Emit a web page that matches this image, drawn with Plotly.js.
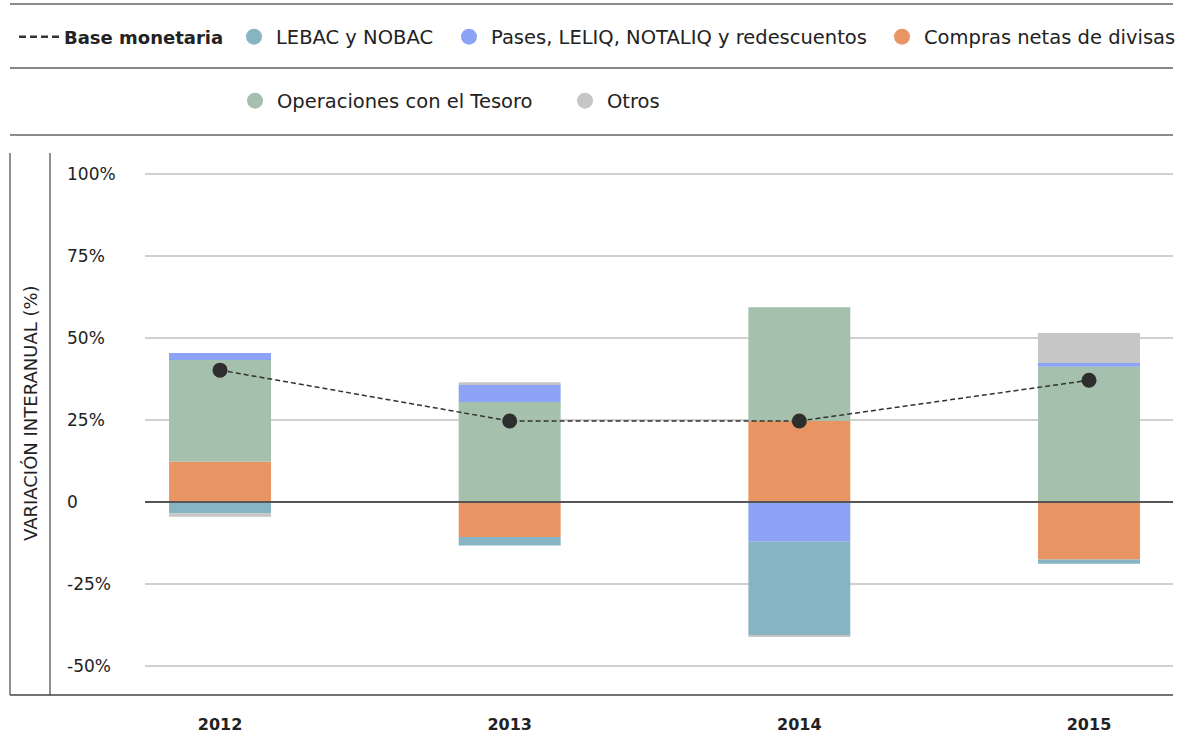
<!DOCTYPE html>
<html>
<head>
<meta charset="utf-8">
<script src="https://cdn.plot.ly/plotly-3.0.1.min.js"></script>
<style>html,body{margin:0;padding:0;background:#fff;}#chart{width:1183px;height:736px;}</style>
</head>
<body>
<div id="chart"></div>
<script>
// ---- data ----
const years = ['2012', '2013', '2014', '2015'];
const baseMonetaria = [40.3, 24.8, 24.8, 37.2];
const lebac = [-3.3, -2.6, -28.5, -1.3];
const pases = [2.1, 5.2, -12.0, 1.2];
const compras = [12.4, -10.6, 24.8, -17.4];
const operaciones = [31.0, 30.6, 34.7, 41.3];
const otros = [-1.1, 0.8, -0.5, 9.1];
const yTickValues = [-50, -25, 0, 25, 50, 75, 100];
const yTickLabels = ['-50%', '-25%', '0', '25%', '50%', '75%', '100%'];

const names = {
  base: '<b>Base monetaria</b>',
  lebac: 'LEBAC y NOBAC',
  pases: 'Pases, LELIQ, NOTALIQ y redescuentos',
  compras: 'Compras netas de divisas',
  operaciones: 'Operaciones con el Tesoro',
  otros: 'Otros'
};
const colors = {
  lebac: '#86b4c2', pases: '#8da3f5', compras: '#e89563',
  operaciones: '#a5c0ad', otros: '#c6c6c6', base: '#2e2e2e'
};

const FONT = '"DejaVu Sans", sans-serif';

function barTrace(y, key) {
  return {
    type: 'bar', x: years, y: y, name: names[key],
    marker: {color: colors[key], line: {width: 0}},
    width: 0.352, showlegend: false, hoverinfo: 'x+y+name'
  };
}
function legendDummy(key, legend) {
  return {
    type: 'scatter', mode: 'markers', x: [null], y: [null], name: names[key],
    marker: {color: colors[key], size: 18, symbol: 'circle'},
    legend: legend, showlegend: true, hoverinfo: 'skip'
  };
}

const traces = [
  barTrace(compras, 'compras'),
  barTrace(operaciones, 'operaciones'),
  barTrace(pases, 'pases'),
  barTrace(lebac, 'lebac'),
  barTrace(otros, 'otros'),
  {
    type: 'scatter', mode: 'lines+markers', x: years, y: baseMonetaria, name: names.base,
    line: {color: '#333333', width: 1.5, dash: '5px,3px'},
    marker: {color: colors.base, size: 15},
    showlegend: false
  },
  {
    type: 'scatter', mode: 'lines', x: [null], y: [null], name: names.base,
    line: {color: '#333333', width: 2.5, dash: '7px,4px'},
    legend: 'legend', showlegend: true, hoverinfo: 'skip'
  },
  legendDummy('lebac', 'legend2'),
  legendDummy('pases', 'legend3'),
  legendDummy('compras', 'legend4'),
  legendDummy('operaciones', 'legend5'),
  legendDummy('otros', 'legend6')
];

// pixel helpers for paper coordinates (plot area x:145..1173, y:153..695)
const L = 145, R = 1173, T = 153, B = 695;
const px = v => (v - L) / (R - L);
const py = v => (B - v) / (B - T);

function legendAt(xPix, yPix, size, itemwidth) {
  return {
    orientation: 'h', xref: 'container', yref: 'container',
    x: xPix / 1183, y: 1 - yPix / 736, xanchor: 'left', yanchor: 'middle',
    font: {family: FONT, size: size, color: '#222'}, bgcolor: 'rgba(0,0,0,0)',
    itemwidth: itemwidth, borderwidth: 0
  };
}

const annotations = yTickValues.map((v, i) => ({
  xref: 'paper', yref: 'y', x: px(65), y: v, xanchor: 'left', yanchor: 'middle',
  text: yTickLabels[i], showarrow: false,
  font: {family: FONT, size: 17, color: '#222'}
}));
annotations.push({
  xref: 'paper', yref: 'paper', x: px(30), y: py(413), textangle: -90,
  text: 'VARIACIÓN INTERANUAL (%)', showarrow: false,
  xanchor: 'center', yanchor: 'middle',
  font: {family: FONT, size: 18, color: '#222'}
});

const shapes = [
  {type: 'line', xref: 'paper', yref: 'paper', x0: px(10), x1: px(1173), y0: py(4), y1: py(4), line: {color: '#666', width: 1.5}},
  {type: 'line', xref: 'paper', yref: 'paper', x0: px(10), x1: px(1173), y0: py(68), y1: py(68), line: {color: '#111', width: 1}},
  {type: 'line', xref: 'paper', yref: 'paper', x0: px(10), x1: px(1173), y0: py(135), y1: py(135), line: {color: '#666', width: 1.5}},
  {type: 'line', xref: 'paper', yref: 'paper', x0: px(10), x1: px(10), y0: 0, y1: 1, line: {color: '#222', width: 1}},
  {type: 'line', xref: 'paper', yref: 'paper', x0: px(50), x1: px(50), y0: 0, y1: 1, line: {color: '#222', width: 1}},
  {type: 'line', xref: 'paper', yref: 'paper', x0: px(10), x1: px(1173), y0: 0, y1: 0, line: {color: '#444', width: 1.5}}
];

const layout = {
  width: 1183, height: 736,
  margin: {l: L, r: 1183 - R, t: T, b: 736 - B, pad: 0},
  paper_bgcolor: '#fff', plot_bgcolor: '#fff',
  font: {family: FONT, color: '#222'},
  barmode: 'relative',
  showlegend: true,
  legend: legendAt(14, 37, 18, 40),
  legend2: legendAt(232, 37, 19.5, 34),
  legend3: legendAt(447, 37, 19.5, 34),
  legend4: legendAt(880, 37, 19.5, 34),
  legend5: legendAt(233, 101, 19.5, 34),
  legend6: legendAt(563, 101, 19.5, 34),
  xaxis: {
    type: 'category', range: [-0.259, 3.29], showgrid: false, zeroline: false,
    showline: false, ticks: '', ticklabelstandoff: 18,
    tickfont: {family: FONT, size: 16, color: '#222', weight: 'bold'},
    fixedrange: true
  },
  yaxis: {
    range: [-58.75, 106.5], tickvals: yTickValues, showticklabels: false,
    showgrid: true, gridcolor: '#d0d0d0', gridwidth: 1.5,
    zeroline: true, zerolinecolor: '#555', zerolinewidth: 1.5,
    zerolinelayer: 'above traces',
    showline: false, ticks: '', fixedrange: true
  },
  annotations: annotations,
  shapes: shapes
};

Plotly.newPlot('chart', traces, layout, {displayModeBar: false, responsive: false});
</script>
</body>
</html>
